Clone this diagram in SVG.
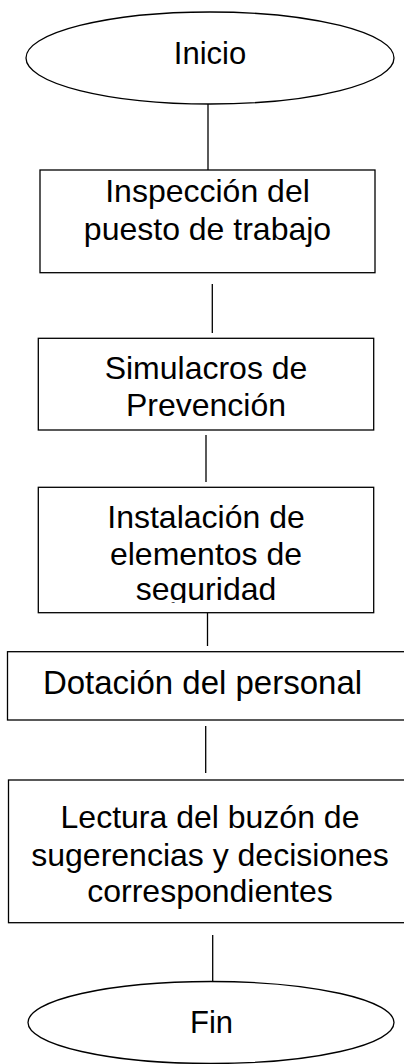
<svg xmlns="http://www.w3.org/2000/svg" width="404" height="1064" viewBox="0 0 404 1064">
<style>
.shape{fill:#fff;stroke:#000;stroke-width:1.3}
.conn line{stroke:#000;stroke-width:1.3}
text{font-family:"Liberation Sans",Arial,sans-serif;font-size:32px;fill:#000;text-anchor:middle}
.t31{font-size:31px}
.t33{font-size:33px}
</style>
<defs>
<clipPath id="clip3"><rect x="38" y="487" width="336" height="116"/></clipPath>
</defs>
<rect width="404" height="1064" fill="#fff"/>
<g id="connectors" class="conn">
<line x1="208" y1="104" x2="208" y2="170"/>
<line x1="212.3" y1="284" x2="212.3" y2="333"/>
<line x1="206" y1="435" x2="206" y2="482"/>
<line x1="207.5" y1="613" x2="207.5" y2="646"/>
<line x1="205.7" y1="726" x2="205.7" y2="773"/>
<line x1="212.7" y1="935" x2="212.7" y2="981"/>
</g>
<g id="inicio">
<ellipse class="shape" cx="210" cy="58" rx="184" ry="46"/>
<text class="t31" x="210" y="64.3">Inicio</text>
</g>
<g id="inspeccion">
<rect class="shape" x="40" y="170" width="335" height="102.7"/>
<text x="207.5" y="201.7">Inspección del</text>
<text x="207.5" y="240">puesto de trabajo</text>
</g>
<g id="simulacros">
<rect class="shape" x="38.3" y="338.3" width="335.4" height="91.7"/>
<text x="206" y="379.3">Simulacros de</text>
<text x="206" y="416">Prevención</text>
</g>
<g id="instalacion">
<rect class="shape" x="38.3" y="487.3" width="335.4" height="125.4"/>
<g clip-path="url(#clip3)">
<text x="206" y="528.3">Instalación de</text>
<text x="206" y="565">elementos de</text>
<text x="206" y="600.3">seguridad</text>
</g>
</g>
<g id="dotacion">
<rect class="shape" x="7.5" y="651.7" width="410" height="68.3"/>
<text class="t33" x="202.5" y="694">Dotación del personal</text>
</g>
<g id="lectura">
<rect class="shape" x="8.5" y="780" width="410" height="142.7"/>
<text x="210" y="828.3">Lectura del buzón de</text>
<text x="210" y="865.5">sugerencias y decisiones</text>
<text x="210" y="901.7">correspondientes</text>
</g>
<g id="fin">
<ellipse class="shape" cx="211" cy="1022.5" rx="183" ry="41"/>
<text class="t31" x="211.5" y="1032.7">Fin</text>
</g>
</svg>
